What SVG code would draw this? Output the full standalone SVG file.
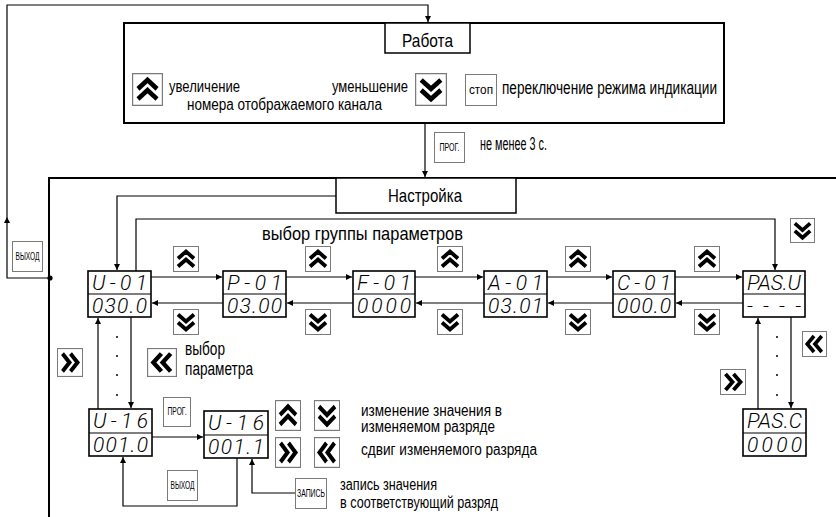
<svg xmlns="http://www.w3.org/2000/svg" xmlns:xlink="http://www.w3.org/1999/xlink" width="836" height="517" viewBox="0 0 836 517">
<style>
.frame{fill:none;stroke:#000;stroke-width:2}
.box{fill:#fff;stroke:#000;stroke-width:1.5}
.disp{fill:#fff;stroke:#000;stroke-width:1.6}
.btn{fill:#fff;stroke:#7a7a7a;stroke-width:1}
.ln{fill:none;stroke:#000;stroke-width:1.2}
.arr{fill:none;stroke:#000;stroke-width:1.2;marker-end:url(#ah)}
.chev{fill:none;stroke:#000;stroke-width:3.8;stroke-linejoin:miter}
.lbl{font-family:"Liberation Sans",Arial,sans-serif;font-size:18px;fill:#000}
.big{font-size:19px}
.mid{font-size:16px}
.sm{font-size:16px}
.seg{font-family:Roboto,"Liberation Sans",sans-serif;font-style:italic;font-weight:300;font-size:21px;fill:#000}
.bt{font-family:"Liberation Sans",Arial,sans-serif;font-size:10.5px;fill:#000;text-anchor:middle}
.dot{fill:#000}
</style>
<defs>
<marker id="ah" viewBox="0 0 10 10" refX="10" refY="5" markerUnits="userSpaceOnUse" markerWidth="9" markerHeight="6" orient="auto"><path d="M0,0 L10,5 L0,10 z" fill="#000"/></marker>
<symbol id="cu" viewBox="0 0 26 26" preserveAspectRatio="none"><rect class="btn" x="0.5" y="0.5" width="25" height="25"/><path class="chev" d="M5,12.5 L13,5.5 L21,12.5 M5,20.5 L13,13.5 L21,20.5"/></symbol>
<symbol id="cd" viewBox="0 0 26 26" preserveAspectRatio="none"><rect class="btn" x="0.5" y="0.5" width="25" height="25"/><path class="chev" d="M5,5.5 L13,12.5 L21,5.5 M5,13.5 L13,20.5 L21,13.5"/></symbol>
<symbol id="cr" viewBox="0 0 26 26" preserveAspectRatio="none"><rect class="btn" x="0.5" y="0.5" width="25" height="25"/><path class="chev" d="M5.5,5 L12.5,13 L5.5,21 M13.5,5 L20.5,13 L13.5,21"/></symbol>
<symbol id="cl" viewBox="0 0 26 26" preserveAspectRatio="none"><rect class="btn" x="0.5" y="0.5" width="25" height="25"/><path class="chev" d="M20.5,5 L13.5,13 L20.5,21 M12.5,5 L5.5,13 L12.5,21"/></symbol>
</defs>
<rect width="836" height="517" fill="#fff"/>

<g id="connectors">
<path class="arr" d="M50,278 H7 V217"/>
<path class="arr" d="M7,217 V5 H428 V22"/>
<path class="arr" d="M425,124 V177"/>
<path class="arr" d="M336,196 H117 V270"/>
<path class="arr" d="M136,271 V219 H775 V270"/>
<path class="arr" d="M151,277 H222"/>
<path class="arr" d="M286,277 H352"/>
<path class="arr" d="M415,277 H483"/>
<path class="arr" d="M547,277 H612"/>
<path class="arr" d="M675,277 H742"/>
<path class="arr" d="M223,303 H152"/>
<path class="arr" d="M353,303 H287"/>
<path class="arr" d="M484,303 H416"/>
<path class="arr" d="M613,303 H548"/>
<path class="arr" d="M743,303 H676"/>
<path class="arr" d="M98,409 V318"/>
<path class="arr" d="M131,317 V408"/>
<path class="arr" d="M758,409 V318"/>
<path class="arr" d="M791,317 V408"/>
<path class="arr" d="M152,437 H203"/>
<path class="arr" d="M237,458 V506 H123 V457"/>
<path class="arr" d="M295,493 H252 V459"/>
<circle class="dot" cx="50" cy="278" r="2.6"/>
<circle class="dot" cx="117" cy="337" r="1"/>
<circle class="dot" cx="117" cy="356" r="1"/>
<circle class="dot" cx="117" cy="375" r="1"/>
<circle class="dot" cx="117" cy="395" r="1"/>
<circle class="dot" cx="777" cy="337" r="1"/>
<circle class="dot" cx="777" cy="356" r="1"/>
<circle class="dot" cx="777" cy="375" r="1"/>
<circle class="dot" cx="777" cy="395" r="1"/>
</g>

<g id="rabota">
<rect class="frame" x="124" y="23" width="600" height="100"/>
<rect class="box" x="385" y="23" width="85" height="30"/>
<text class="lbl big" x="402" y="47" textLength="51" lengthAdjust="spacingAndGlyphs">Работа</text>
<use xlink:href="#cu" x="132" y="73" width="31" height="33"/>
<text class="lbl mid" x="169" y="92" textLength="71" lengthAdjust="spacingAndGlyphs">увеличение</text>
<text class="lbl mid" x="332" y="92" textLength="76" lengthAdjust="spacingAndGlyphs">уменьшение</text>
<text class="lbl mid" x="187" y="110" textLength="195" lengthAdjust="spacingAndGlyphs">номера отображаемого канала</text>
<use xlink:href="#cd" x="415" y="73" width="32" height="33"/>
<rect class="btn" x="465.5" y="74.5" width="31" height="31"/>
<text class="bt" x="481" y="94" textLength="24" lengthAdjust="spacingAndGlyphs" style="font-size:12px">стоп</text>
<text class="lbl" x="502" y="94" textLength="215" lengthAdjust="spacingAndGlyphs">переключение режима индикации</text>
</g>

<g id="prog-hold">
<rect class="btn" x="434.5" y="132.5" width="30" height="30"/>
<text class="bt" x="449.5" y="151" textLength="20" lengthAdjust="spacingAndGlyphs">ПРОГ.</text>
<text class="lbl" x="480" y="150" textLength="67" lengthAdjust="spacingAndGlyphs">не менее 3 с.</text>
</g>

<g id="exit-top">
<rect class="btn" x="12.5" y="241.5" width="30" height="30"/>
<text class="bt" x="27.5" y="260" textLength="24" lengthAdjust="spacingAndGlyphs">ВЫХОД</text>
</g>

<g id="nastroyka">
<path class="frame" d="M837,178 H49 V518"/>
<rect class="box" x="336" y="178" width="180" height="35"/>
<text class="lbl big" x="388" y="202" textLength="74" lengthAdjust="spacingAndGlyphs">Настройка</text>
<text class="lbl big" x="262" y="240" textLength="201" lengthAdjust="spacingAndGlyphs">выбор группы параметров</text>
</g>

<g id="buttons-row">
<use xlink:href="#cu" x="173" y="246" width="26" height="26"/>
<use xlink:href="#cu" x="305" y="246" width="26" height="26"/>
<use xlink:href="#cu" x="437" y="246" width="26" height="26"/>
<use xlink:href="#cu" x="565" y="246" width="26" height="26"/>
<use xlink:href="#cu" x="694" y="246" width="26" height="26"/>
<use xlink:href="#cd" x="173" y="309" width="26" height="26"/>
<use xlink:href="#cd" x="305" y="309" width="26" height="26"/>
<use xlink:href="#cd" x="437" y="309" width="26" height="26"/>
<use xlink:href="#cd" x="565" y="309" width="26" height="26"/>
<use xlink:href="#cd" x="694" y="309" width="26" height="26"/>
<use xlink:href="#cd" x="790" y="218" width="25" height="25"/>
</g>

<g id="node-u01">
<rect class="disp" x="88" y="271" width="63" height="46"/><line class="ln" x1="88" y1="294" x2="151" y2="294" stroke-width="1.5"/>
<text class="seg" x="92" y="290" textLength="55" lengthAdjust="spacing">U-01</text>
<text class="seg" x="92" y="313" textLength="55" lengthAdjust="spacing">030.0</text>
</g>
<g id="node-p01">
<rect class="disp" x="223" y="271" width="63" height="46"/><line class="ln" x1="223" y1="294" x2="286" y2="294" stroke-width="1.5"/>
<text class="seg" x="227" y="290" textLength="55" lengthAdjust="spacing">P-01</text>
<text class="seg" x="227" y="313" textLength="55" lengthAdjust="spacing">03.00</text>
</g>
<g id="node-f01">
<rect class="disp" x="353" y="271" width="62" height="46"/><line class="ln" x1="353" y1="294" x2="415" y2="294" stroke-width="1.5"/>
<text class="seg" x="357" y="290" textLength="54" lengthAdjust="spacing">F-01</text>
<text class="seg" x="357" y="313" textLength="54" lengthAdjust="spacing">0000</text>
</g>
<g id="node-a01">
<rect class="disp" x="484" y="271" width="63" height="46"/><line class="ln" x1="484" y1="294" x2="547" y2="294" stroke-width="1.5"/>
<text class="seg" x="488" y="290" textLength="55" lengthAdjust="spacing">A-01</text>
<text class="seg" x="488" y="313" textLength="55" lengthAdjust="spacing">03.01</text>
</g>
<g id="node-c01">
<rect class="disp" x="613" y="271" width="62" height="46"/><line class="ln" x1="613" y1="294" x2="675" y2="294" stroke-width="1.5"/>
<text class="seg" x="617" y="290" textLength="54" lengthAdjust="spacing">C-01</text>
<text class="seg" x="617" y="313" textLength="54" lengthAdjust="spacing">000.0</text>
</g>
<g id="node-pasu">
<rect class="disp" x="743" y="271" width="62" height="46"/><line class="ln" x1="743" y1="294" x2="805" y2="294" stroke-width="1.5"/>
<text class="seg" x="747" y="290" textLength="54" lengthAdjust="spacing">PAS.U</text>
<text class="seg" x="747" y="313" textLength="54" lengthAdjust="spacing">----</text>
</g>

<g id="pas-buttons">
<use xlink:href="#cl" x="802" y="331" width="25" height="26"/>
<use xlink:href="#cr" x="720" y="369" width="26" height="26"/>
</g>

<g id="node-pasc">
<rect class="disp" x="743" y="409" width="63" height="47"/><line class="ln" x1="743" y1="433" x2="806" y2="433" stroke-width="1.5"/>
<text class="seg" x="747" y="428" textLength="55" lengthAdjust="spacing">PAS.C</text>
<text class="seg" x="747" y="452" textLength="55" lengthAdjust="spacing">0000</text>
</g>

<g id="param-select">
<use xlink:href="#cr" x="57" y="348" width="26" height="29"/>
<use xlink:href="#cl" x="147" y="348" width="30" height="29"/>
<text class="lbl" x="185" y="355" textLength="40" lengthAdjust="spacingAndGlyphs">выбор</text>
<text class="lbl" x="185" y="375" textLength="68" lengthAdjust="spacingAndGlyphs">параметра</text>
</g>

<g id="node-u16">
<rect class="disp" x="89" y="409" width="63" height="47"/><line class="ln" x1="89" y1="433" x2="152" y2="433" stroke-width="1.5"/>
<text class="seg" x="93" y="428" textLength="55" lengthAdjust="spacing">U-16</text>
<text class="seg" x="93" y="452" textLength="55" lengthAdjust="spacing">001.0</text>
</g>

<g id="prog-edit">
<rect class="btn" x="163.5" y="397.5" width="27" height="29"/>
<text class="bt" x="177" y="415" textLength="19" lengthAdjust="spacingAndGlyphs">ПРОГ.</text>
</g>

<g id="node-u16-edit">
<rect class="disp" x="204" y="411" width="64" height="47"/><line class="ln" x1="204" y1="435" x2="268" y2="435" stroke-width="1.5"/>
<text class="seg" x="208" y="430" textLength="56" lengthAdjust="spacing">U-16</text>
<text class="seg" x="208" y="454" textLength="56" lengthAdjust="spacing">001.1</text>
</g>

<g id="exit-edit">
<rect class="btn" x="167.5" y="470.5" width="30" height="30"/>
<text class="bt" x="182.5" y="489" textLength="24" lengthAdjust="spacingAndGlyphs">ВЫХОД</text>
</g>

<g id="write">
<rect class="btn" x="295.5" y="478.5" width="31" height="30"/>
<text class="bt" x="311" y="497" textLength="28" lengthAdjust="spacingAndGlyphs">ЗАПИСЬ</text>
<text class="lbl sm" x="340" y="490" textLength="97" lengthAdjust="spacingAndGlyphs">запись значения</text>
<text class="lbl sm" x="340" y="508" textLength="158" lengthAdjust="spacingAndGlyphs">в соответствующий разряд</text>
</g>

<g id="edit-keys">
<use xlink:href="#cu" x="275" y="400" width="26" height="31"/>
<use xlink:href="#cd" x="314" y="400" width="26" height="31"/>
<use xlink:href="#cr" x="275" y="437" width="26" height="31"/>
<use xlink:href="#cl" x="314" y="437" width="26" height="31"/>
<text class="lbl sm" x="361" y="416" textLength="141" lengthAdjust="spacingAndGlyphs">изменение значения в</text>
<text class="lbl sm" x="361" y="432" textLength="134" lengthAdjust="spacingAndGlyphs">изменяемом разряде</text>
<text class="lbl sm" x="361" y="455" textLength="176" lengthAdjust="spacingAndGlyphs">сдвиг изменяемого разряда</text>
</g>
</svg>
